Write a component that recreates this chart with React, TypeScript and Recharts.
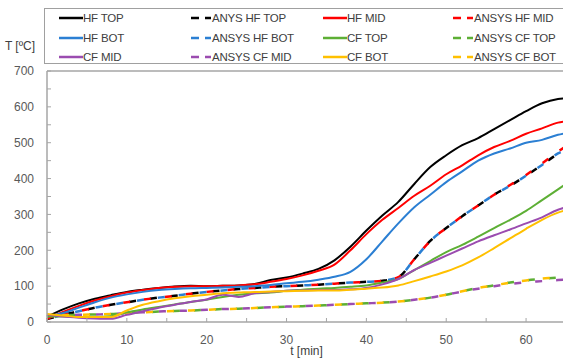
import { LineChart, Line, XAxis, YAxis, ReferenceLine } from "recharts";

const TIME = [0, 2, 4, 6, 8, 10, 12, 14, 16, 18, 20, 22, 24, 26, 28, 30, 32, 34, 36, 38, 40, 42, 44, 46, 48, 50, 52, 54, 56, 58, 60, 62, 64, 65];

const HF_TOP = [15, 35, 52, 65, 75, 84, 90, 95, 99, 101, 100, 101, 102, 106, 117, 124, 135, 148, 172, 210, 255, 297, 335, 385, 432, 465, 493, 513, 538, 563, 588, 610, 622, 624];
const HF_MID = [8, 28, 45, 60, 72, 82, 89, 95, 98, 100, 100, 101, 102, 105, 112, 120, 130, 143, 160, 200, 245, 285, 318, 352, 380, 412, 437, 465, 488, 505, 525, 540, 556, 560];
const HF_BOT = [15, 25, 40, 55, 68, 77, 84, 89, 92, 94, 95, 96, 98, 100, 103, 108, 112, 118, 126, 140, 175, 225, 275, 320, 355, 390, 420, 450, 470, 484, 500, 508, 522, 527];
const ANSYS_HF_TOP = [8, 20, 30, 40, 48, 55, 62, 68, 73, 79, 84, 88, 92, 95, 98, 100, 102, 104, 107, 110, 112, 115, 125, 175, 226, 262, 295, 325, 355, 380, 408, 438, 468, 475];
const ANSYS_HF_MID = [8, 20, 30, 40, 48, 55, 62, 68, 73, 79, 84, 88, 92, 95, 98, 100, 102, 104, 107, 110, 112, 115, 125, 175, 226, 262, 295, 325, 355, 382, 410, 442, 475, 490];
const ANSYS_HF_BOT = [8, 20, 30, 40, 48, 55, 62, 68, 73, 79, 84, 88, 92, 95, 98, 100, 102, 104, 107, 110, 112, 115, 125, 175, 226, 262, 295, 325, 355, 380, 408, 438, 470, 480];
const CF_TOP = [15, 15, 14, 14, 16, 27, 35, 42, 49, 56, 62, 70, 76, 80, 82, 87, 90, 93, 95, 98, 102, 110, 120, 145, 170, 195, 215, 238, 262, 285, 310, 340, 370, 385];
const CF_MID = [20, 15, 12, 10, 9, 20, 30, 40, 48, 56, 63, 76, 70, 80, 84, 87, 88, 89, 89, 91, 95, 105, 120, 145, 165, 185, 205, 225, 242, 258, 275, 292, 313, 320];
const CF_BOT = [22, 18, 14, 14, 14, 32, 48, 58, 66, 72, 76, 80, 82, 84, 85, 86, 87, 88, 88, 90, 93, 96, 102, 114, 127, 141, 158, 180, 206, 233, 260, 285, 305, 312];
const ANSYS_CF_TOP = [18, 19, 20, 21, 22, 25, 27, 29, 31, 32, 34, 36, 37, 39, 41, 43, 44, 46, 48, 50, 52, 54, 57, 62, 68, 76, 86, 95, 102, 110, 116, 120, 124, 126];
const ANSYS_CF_MID = [18, 19, 20, 21, 22, 25, 27, 29, 31, 32, 34, 36, 37, 39, 41, 43, 44, 46, 48, 50, 52, 54, 57, 62, 68, 76, 85, 93, 100, 106, 111, 114, 117, 118];
const ANSYS_CF_BOT = [18, 19, 20, 21, 22, 25, 27, 29, 31, 32, 34, 36, 37, 39, 41, 43, 44, 46, 48, 50, 52, 54, 57, 62, 68, 76, 86, 95, 102, 110, 116, 121, 125, 128];

const X_TICKS = [0, 5, 10, 15, 20, 25, 30, 35, 40, 45, 50, 55, 60, 65];
const Y_TICKS = [0, 50, 100, 150, 200, 250, 300, 350, 400, 450, 500, 550, 600, 650, 700];

// legend order is row by row, 4 columns
const SERIES = [
  { key: "hfTop", name: "HF TOP", values: HF_TOP, color: "#000000", dashed: false, offset: 0 },
  { key: "aHfTop", name: "ANYS HF TOP", values: ANSYS_HF_TOP, color: "#000000", dashed: true, offset: 0 },
  { key: "hfMid", name: "HF MID", values: HF_MID, color: "#ff0000", dashed: false, offset: 0 },
  { key: "aHfMid", name: "ANSYS HF MID", values: ANSYS_HF_MID, color: "#ff0000", dashed: true, offset: 6 },
  { key: "hfBot", name: "HF BOT", values: HF_BOT, color: "#2b7fd3", dashed: false, offset: 0 },
  { key: "aHfBot", name: "ANSYS HF BOT", values: ANSYS_HF_BOT, color: "#2b7fd3", dashed: true, offset: 13 },
  { key: "cfTop", name: "CF TOP", values: CF_TOP, color: "#5daf35", dashed: false, offset: 0 },
  { key: "aCfTop", name: "ANSYS CF TOP", values: ANSYS_CF_TOP, color: "#5daf35", dashed: true, offset: 0 },
  { key: "cfMid", name: "CF MID", values: CF_MID, color: "#9b4cb0", dashed: false, offset: 0 },
  { key: "aCfMid", name: "ANSYS CF MID", values: ANSYS_CF_MID, color: "#9b4cb0", dashed: true, offset: 14 },
  { key: "cfBot", name: "CF BOT", values: CF_BOT, color: "#ffc000", dashed: false, offset: 0 },
  { key: "aCfBot", name: "ANSYS CF BOT", values: ANSYS_CF_BOT, color: "#ffc000", dashed: true, offset: 6 },
];

const rows = TIME.map((t, i) => {
  const row: Record<string, number> = { t };
  SERIES.forEach((s) => {
    row[s.key] = s.values[i];
  });
  return row;
});

const FONT = "'Liberation Sans', Arial, sans-serif";
const AXIS_GRAY = "#a6a6a6";

// solid lines drawn last so they sit over the dashed ones
const drawOrder = [...SERIES.filter((s) => s.dashed), ...SERIES.filter((s) => !s.dashed)];

function LegendBox() {
  const colX = [14, 146, 278, 408];
  return (
    <div
      style={{
        position: "absolute",
        left: 44,
        top: 8,
        width: 540,
        height: 56,
        border: "1px solid #a0a0a0",
        boxSizing: "border-box",
        fontFamily: FONT,
        fontSize: 11.5,
        letterSpacing: -0.2,
        color: "#404040",
      }}
    >
      {SERIES.map((s, i) => {
        const col = i % 4;
        const row = Math.floor(i / 4);
        return (
          <div
            key={s.key}
            style={{
              position: "absolute",
              left: colX[col],
              top: 1 + row * 19.5,
              display: "flex",
              alignItems: "center",
              height: 16,
              whiteSpace: "nowrap",
            }}
          >
            <svg width={s.dashed ? 20 : 24} height={4} style={{ marginRight: s.dashed ? 1 : 0 }}>
              <line
                x1={0}
                y1={2}
                x2={s.dashed ? 20 : 24}
                y2={2}
                stroke={s.color}
                strokeWidth={2.5}
                strokeDasharray={s.dashed ? "8 6" : undefined}
              />
            </svg>
            <span>{s.name}</span>
          </div>
        );
      })}
    </div>
  );
}

export default function App() {
  return (
    <div
      style={{
        position: "fixed",
        left: 0,
        top: 0,
        width: 563,
        height: 363,
        overflow: "hidden",
        background: "#fff",
      }}
    >
      <LineChart
        width={566}
        height={363}
        data={rows}
        margin={{ top: 71, right: 0, left: 0, bottom: 0 }}
        style={{ fontFamily: FONT }}
      >
        <XAxis
          dataKey="t"
          type="number"
          domain={[0, 65]}
          ticks={X_TICKS}
          interval={0}
          height={41}
          tickFormatter={(v: number) => (v % 10 === 0 ? String(v) : "")}
          tick={{ fill: "#595959", fontSize: 12 }}
          tickSize={-4}
          tickMargin={17}
          axisLine={{ stroke: AXIS_GRAY, strokeWidth: 1.5 }}
          tickLine={{ stroke: AXIS_GRAY }}
          label={{ value: "t [min]", position: "insideBottom", offset: 8, fill: "#404040", fontSize: 12 }}
        />
        <YAxis
          type="number"
          domain={[0, 700]}
          ticks={Y_TICKS}
          interval={0}
          width={47}
          tickFormatter={(v: number) => (v % 100 === 0 ? String(v) : "")}
          tick={{ fill: "#595959", fontSize: 12 }}
          tickSize={-4}
          tickMargin={17}
          axisLine={{ stroke: AXIS_GRAY, strokeWidth: 1.5 }}
          tickLine={{ stroke: AXIS_GRAY }}
          label={{
            content: () => (
              <text x={20} y={50} textAnchor="middle" fill="#404040" fontSize={12}>
                T [ºC]
              </text>
            ),
          }}
        />
        <ReferenceLine y={700} stroke={AXIS_GRAY} strokeWidth={1.5} ifOverflow="visible" />
        {drawOrder.map((s) => (
          <Line
            key={s.key}
            dataKey={s.key}
            name={s.name}
            type="monotone"
            stroke={s.color}
            strokeWidth={s.dashed ? 2.5 : 2}
            strokeDasharray={s.dashed ? "7 14" : undefined}
            strokeDashoffset={s.dashed ? s.offset : undefined}
            dot={false}
            activeDot={false}
            isAnimationActive={false}
          />
        ))}
      </LineChart>
      <LegendBox />
    </div>
  );
}
